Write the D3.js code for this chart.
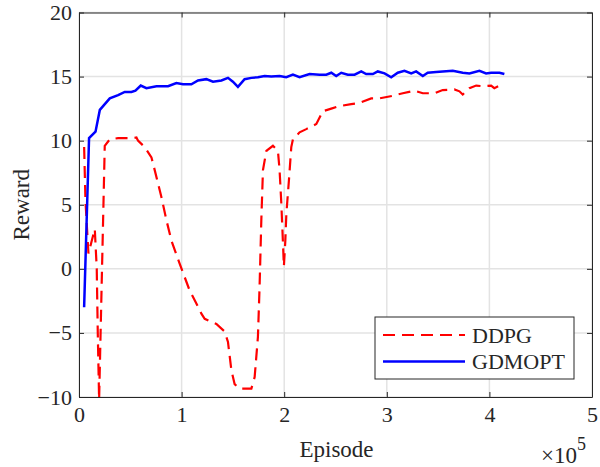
<!DOCTYPE html>
<html>
<head>
<meta charset="utf-8">
<script src="https://cdn.jsdelivr.net/npm/d3@7"></script>
<style>
  body { margin: 0; background: #fff; }
  svg { display: block; }
  text { font-family: "Liberation Serif", "Times New Roman", serif; fill: #262626; }
</style>
</head>
<body>
<svg id="chart" width="600" height="467"></svg>
<script>
// episodes are in units of 1e5 on the axis
const ddpgEpisode = [0.050, 0.063, 0.092, 0.154, 0.173, 0.183, 0.196, 0.251, 0.300, 0.381, 0.527, 0.560, 0.575,
  0.641, 0.706, 0.738, 0.803, 0.852, 0.901, 0.981, 1.030, 1.079, 1.144, 1.193, 1.225, 1.339, 1.420, 1.452,
  1.485, 1.517, 1.566, 1.680, 1.712, 1.744, 1.760, 1.777, 1.793, 1.826, 1.890, 1.939, 1.955, 1.972, 1.987,
  1.997, 2.011, 2.021, 2.046, 2.069, 2.085, 2.150, 2.215, 2.313, 2.377, 2.459, 2.539, 2.653, 2.702, 2.751,
  2.848, 2.929, 3.058, 3.156, 3.270, 3.351, 3.465, 3.545, 3.659, 3.708, 3.740, 3.805, 3.871, 3.935, 4.017,
  4.048, 4.099];
const ddpgReward = [9.5, 5.3, 1.2, 3.1, 0.0, -5.0, -10.2, 9.6, 10.1, 10.2, 10.2, 10.25, 10.0,
  9.5, 8.7, 7.7, 5.6, 3.8, 2.2, 0.4, -0.65, -1.7, -2.7, -3.5, -3.9, -4.3, -4.9, -5.7,
  -7.9, -9.0, -9.35, -9.35, -8.45, -5.3, -1.4, 3.8, 7.7, 9.2, 9.6, 9.2, 7.7, 5.1, 2.2,
  0.2, 2.2, 4.3, 6.9, 9.5, 10.1, 10.65, 10.9, 11.3, 12.3, 12.5, 12.7, 12.85, 12.9, 13.0,
  13.3, 13.3, 13.5, 13.7, 13.9, 13.7, 13.7, 13.95, 14.0, 13.85, 13.6, 14.1, 14.3, 14.25, 14.3,
  14.1, 14.3];

const gdmoptEpisode = [0.050, 0.098, 0.161, 0.203, 0.300, 0.381, 0.446, 0.511, 0.550, 0.602, 0.657, 0.755,
  0.868, 0.949, 1.014, 1.095, 1.160, 1.241, 1.306, 1.388, 1.452, 1.500, 1.549, 1.614, 1.680, 1.744, 1.809,
  1.874, 1.955, 2.020, 2.085, 2.150, 2.247, 2.345, 2.410, 2.459, 2.507, 2.556, 2.620, 2.686, 2.751, 2.799,
  2.864, 2.912, 2.978, 3.043, 3.107, 3.172, 3.238, 3.286, 3.351, 3.399, 3.481, 3.545, 3.643, 3.740, 3.805,
  3.903, 3.968, 4.017, 4.098, 4.146];
const gdmoptReward = [-3.0, 10.2, 10.7, 12.4, 13.3, 13.55, 13.8, 13.8, 13.9, 14.3, 14.1, 14.25,
  14.25, 14.5, 14.4, 14.4, 14.7, 14.8, 14.6, 14.7, 14.9, 14.6, 14.2, 14.8, 14.9, 14.95, 15.05,
  15.0, 15.05, 14.95, 15.15, 14.95, 15.2, 15.15, 15.15, 15.3, 15.05, 15.3, 15.15, 15.15, 15.4, 15.2,
  15.2, 15.4, 15.25, 14.95, 15.3, 15.45, 15.25, 15.4, 15.05, 15.3, 15.35, 15.4, 15.45, 15.3, 15.25,
  15.45, 15.25, 15.3, 15.3, 15.2];

const xTicks = [0, 1, 2, 3, 4, 5];
const yTicks = [-10, -5, 0, 5, 10, 15, 20];
const seriesNames = ["DDPG", "GDMOPT"];

const svg = d3.select("#chart");
const margin = {top: 12.5, right: 8, bottom: 70, left: 79};
const width = +svg.attr("width");
const height = +svg.attr("height");
const innerWidth = width - margin.left - margin.right;
const innerHeight = height - margin.top - margin.bottom;

const x = d3.scaleLinear().domain([0, 5]).range([0, innerWidth]);
const y = d3.scaleLinear().domain([-10, 20]).range([innerHeight, 0]);

const g = svg.append("g").attr("transform", `translate(${margin.left},${margin.top})`);

// grid
g.append("g")
  .selectAll("line").data(xTicks).enter().append("line")
  .attr("x1", d => x(d)).attr("x2", d => x(d))
  .attr("y1", 0).attr("y2", innerHeight)
  .attr("stroke", "#e3e3e3").attr("stroke-width", 1.5);
g.append("g")
  .selectAll("line").data(yTicks).enter().append("line")
  .attr("x1", 0).attr("x2", innerWidth)
  .attr("y1", d => y(d)).attr("y2", d => y(d))
  .attr("stroke", "#e3e3e3").attr("stroke-width", 1.5);

// clip for the lines
svg.append("defs").append("clipPath").attr("id", "plotClip")
  .append("rect").attr("width", innerWidth).attr("height", innerHeight);

const line = d3.line().x(d => x(d[0])).y(d => y(d[1]));

const ddpg = ddpgEpisode.map((e, i) => [e, ddpgReward[i]]);
const gdmopt = gdmoptEpisode.map((e, i) => [e, gdmoptReward[i]]);

const plot = g.append("g").attr("clip-path", "url(#plotClip)");
plot.append("path").datum(ddpg)
  .attr("d", line).attr("fill", "none")
  .attr("stroke", "#ff0000").attr("stroke-width", 2.2)
  .attr("stroke-dasharray", "12,7");
plot.append("path").datum(gdmopt)
  .attr("d", line).attr("fill", "none")
  .attr("stroke", "#0000ff").attr("stroke-width", 2.5);

// axes (ticks pointing inward, box on)
function styleAxis(sel) {
  sel.attr("font-family", null).attr("font-size", null);
  sel.select(".domain").attr("stroke", "#262626").attr("stroke-width", 1);
  sel.selectAll(".tick line").attr("stroke", "#262626");
  sel.selectAll("text").attr("font-size", 22).attr("fill", "#262626");
}

g.append("g").attr("transform", `translate(0,${innerHeight})`)
  .call(d3.axisBottom(x).tickValues(xTicks).tickFormat(d3.format("d"))
    .tickSizeInner(-5).tickSizeOuter(0).tickPadding(9))
  .call(styleAxis);
g.append("g")
  .call(d3.axisTop(x).tickValues(xTicks)
    .tickSizeInner(-5).tickSizeOuter(0))
  .call(styleAxis)
  .call(a => a.selectAll("text").remove());
g.append("g")
  .call(d3.axisLeft(y).tickValues(yTicks).tickFormat(d3.format("d"))
    .tickSizeInner(-5).tickSizeOuter(0).tickPadding(7))
  .call(styleAxis);
g.append("g").attr("transform", `translate(${innerWidth},0)`)
  .call(d3.axisRight(y).tickValues(yTicks)
    .tickSizeInner(-5).tickSizeOuter(0))
  .call(styleAxis)
  .call(a => a.selectAll("text").remove());

// axis titles
svg.append("text")
  .attr("x", margin.left + innerWidth / 2 + 1).attr("y", 457)
  .attr("text-anchor", "middle").attr("font-size", 23)
  .text("Episode");
svg.append("text")
  .attr("transform", `translate(29,${margin.top + innerHeight / 2}) rotate(-90)`)
  .attr("text-anchor", "middle").attr("font-size", 23)
  .text("Reward");

// exponent label
const expo = svg.append("text").attr("x", 541).attr("y", 463).attr("font-size", 23);
expo.append("tspan").text("\u00d710");
expo.append("tspan").attr("dy", -13).attr("font-size", 18).text("5");

// legend
const legend = svg.append("g").attr("transform", "translate(375,317)");
legend.append("rect")
  .attr("width", 199).attr("height", 62)
  .attr("fill", "#fff").attr("stroke", "#262626").attr("stroke-width", 1);
const legendColors = ["#ff0000", "#0000ff"];
const legendDash = ["12,7", null];
seriesNames.forEach((name, i) => {
  const yy = 18 + i * 26.5;
  legend.append("line")
    .attr("x1", 8).attr("x2", 90).attr("y1", yy).attr("y2", yy)
    .attr("stroke", legendColors[i]).attr("stroke-width", i ? 2.5 : 2.2)
    .attr("stroke-dasharray", legendDash[i]);
  legend.append("text")
    .attr("x", 97).attr("y", yy).attr("dy", "0.35em")
    .attr("font-size", 22).text(name);
});
</script>
</body>
</html>
